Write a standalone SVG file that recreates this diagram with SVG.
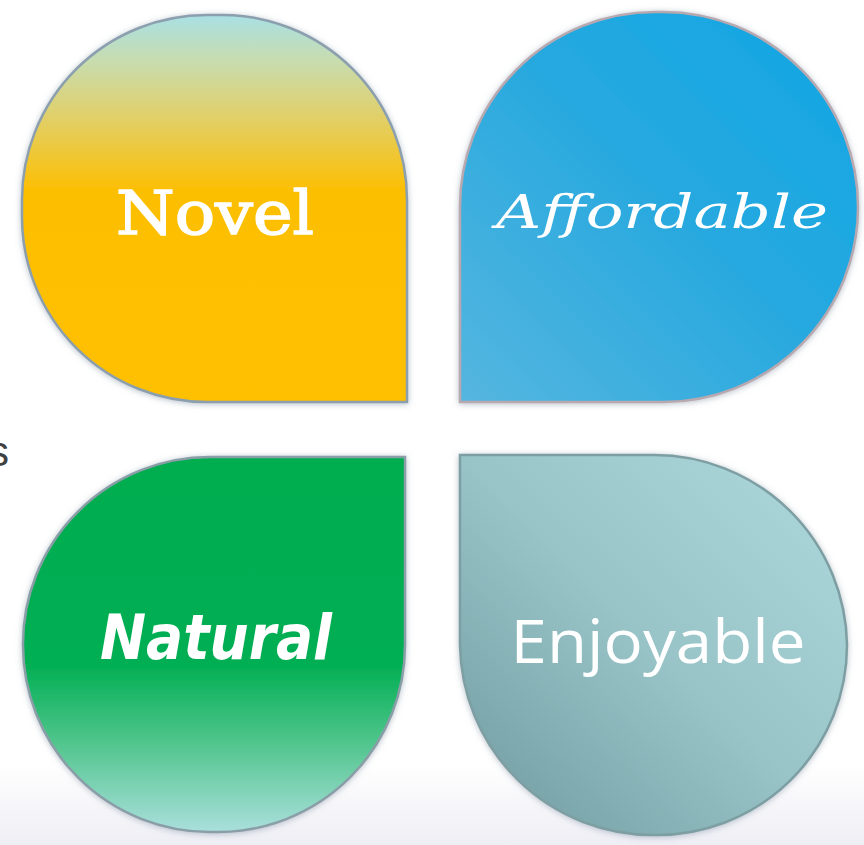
<svg xmlns="http://www.w3.org/2000/svg" width="864" height="845" viewBox="0 0 864 845">
  <defs>
    <linearGradient id="bgBand" x1="0" y1="0" x2="0" y2="1">
      <stop offset="0" stop-color="#ffffff"/>
      <stop offset="1" stop-color="#eeeef5"/>
    </linearGradient>
    <linearGradient id="gNovel" x1="0" y1="0" x2="0" y2="1">
      <stop offset="0" stop-color="#a9e0e4"/>
      <stop offset="0.12" stop-color="#c8dcae"/>
      <stop offset="0.27" stop-color="#e2cf66"/>
      <stop offset="0.45" stop-color="#fcbf04"/>
      <stop offset="1" stop-color="#ffc000"/>
    </linearGradient>
    <linearGradient id="gAfford" x1="1" y1="0" x2="0" y2="1">
      <stop offset="0" stop-color="#10a6e4"/>
      <stop offset="0.5" stop-color="#29a9df"/>
      <stop offset="1" stop-color="#55b6df"/>
    </linearGradient>
    <linearGradient id="gNatural" x1="0" y1="0" x2="0" y2="1">
      <stop offset="0" stop-color="#00ad50"/>
      <stop offset="0.55" stop-color="#00ae52"/>
      <stop offset="0.75" stop-color="#4cc489"/>
      <stop offset="1" stop-color="#aadfdc"/>
    </linearGradient>
    <linearGradient id="gEnjoy" x1="1" y1="0" x2="0" y2="1">
      <stop offset="0" stop-color="#aed9dc"/>
      <stop offset="0.5" stop-color="#98c4c8"/>
      <stop offset="1" stop-color="#6f999e"/>
    </linearGradient>
    <filter id="soft" x="-10%" y="-10%" width="120%" height="120%">
      <feGaussianBlur in="SourceAlpha" stdDeviation="3"/>
      <feOffset dx="0" dy="1" result="b"/>
      <feFlood flood-color="#8090a0" flood-opacity="0.55"/>
      <feComposite in2="b" operator="in"/>
      <feMerge><feMergeNode/><feMergeNode in="SourceGraphic"/></feMerge>
    </filter>
  </defs>
  <style>
    .drop { stroke-width: 2.5; filter: url(#soft); }
    .lbl { fill: #ffffff; text-anchor: middle; }
  </style>

  <rect x="0" y="0" width="864" height="845" fill="#ffffff"/>
  <rect x="0" y="765" width="864" height="80" fill="url(#bgBand)"/>
  <text x="-12" y="466" font-family="Liberation Sans, sans-serif" font-size="42" fill="#404040">s</text>

  <g id="novel">
    <path class="drop" fill="url(#gNovel)" stroke="#8b9fae" d="M407 402 L207 402 A185 185 0 0 1 22 217 L22 200 A185 185 0 0 1 207 15 L222 15 A185 185 0 0 1 407 200 Z"/>
    <text class="lbl" x="215" y="234" font-family="DejaVu Serif, serif" font-size="60" stroke="#ffffff" stroke-width="1.5" textLength="198" lengthAdjust="spacingAndGlyphs">Novel</text>
  </g>

  <g id="affordable">
    <path class="drop" fill="url(#gAfford)" stroke="#b8a8b0" stroke-width="1.5" d="M460 402 L460 210 A195 195 0 0 1 655 12 L663 12 A195 195 0 0 1 858 207 A195 195 0 0 1 663 402 Z"/>
    <text class="lbl" x="662" y="228" font-family="DejaVu Serif, serif" font-style="italic" font-size="46" textLength="332" lengthAdjust="spacingAndGlyphs">Affordable</text>
  </g>

  <g id="natural">
    <path class="drop" fill="url(#gNatural)" stroke="#8a9ea8" d="M405 457 L405 645 A187 187 0 0 1 218 832 L210 832 A187 187 0 0 1 23 645 L23 644 A187 187 0 0 1 210 457 Z"/>
    <text class="lbl" x="216" y="659" font-family="DejaVu Sans, sans-serif" font-style="italic" font-weight="bold" font-size="62" textLength="232" lengthAdjust="spacingAndGlyphs">Natural</text>
  </g>

  <g id="enjoyable">
    <path class="drop" fill="url(#gEnjoy)" stroke="#7d9fa3" d="M460 455 L654 455 A193 193 0 0 1 847 645 A190 190 0 0 1 654 835 A193 193 0 0 1 460 645 Z"/>
    <text class="lbl" x="658" y="663" font-family="Open Sans, sans-serif" font-size="60" textLength="295" lengthAdjust="spacingAndGlyphs">Enjoyable</text>
  </g>

  <g id="connectors"></g>
</svg>
